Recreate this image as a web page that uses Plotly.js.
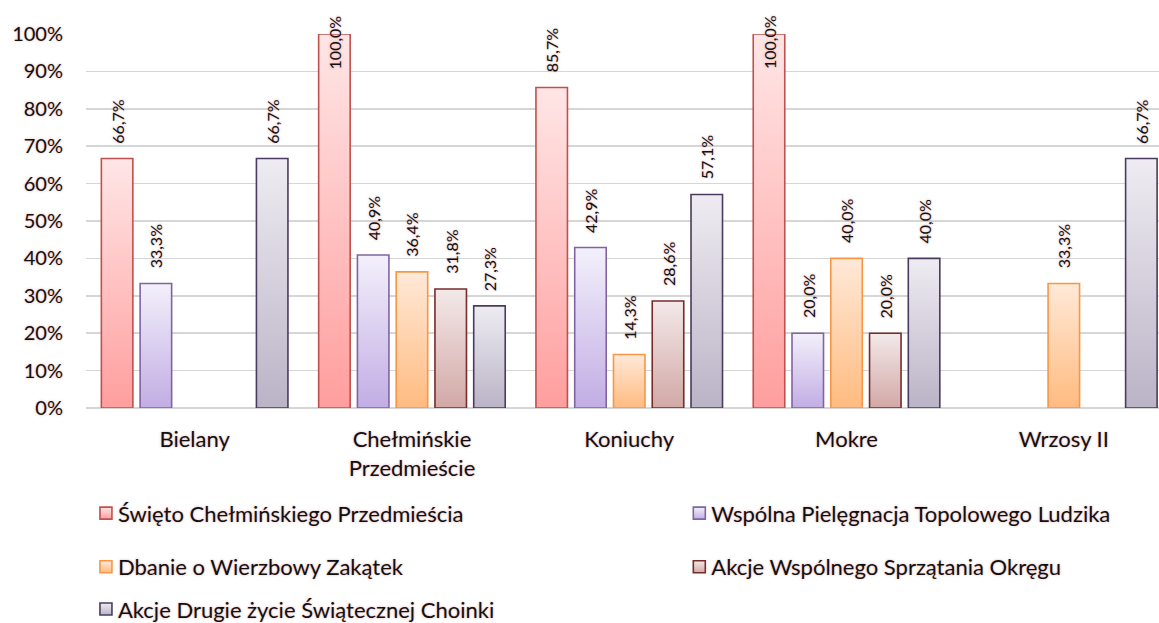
<!DOCTYPE html>
<html>
<head>
<meta charset="utf-8">
<script src="https://cdn.plot.ly/plotly-3.0.1.min.js"></script>
<style>
  html, body { margin: 0; padding: 0; background: #fff; overflow: hidden; }
  #wrap { width: 1159px; height: 623px; overflow: hidden; }
  #chart { width: 1159px; height: 640px; }
</style>
</head>
<body>
<div id="wrap"><div id="chart"></div></div>
<script>
// Districts (x categories) and how they are written under the axis
const districts = ['Bielany', 'Chełmińskie Przedmieście', 'Koniuchy', 'Mokre', 'Wrzosy II'];
const districtLabels = ['Bielany', 'Chełmińskie<br>Przedmieście', 'Koniuchy', 'Mokre', 'Wrzosy II'];

// Initiatives (one bar series each)
const initiatives = [
  'Święto Chełmińskiego Przedmieścia',
  'Wspólna Pielęgnacja Topolowego Ludzika',
  'Dbanie o Wierzbowy Zakątek',
  'Akcje Wspólnego Sprzątania Okręgu',
  'Akcje Drugie życie Świątecznej Choinki'
];

// Share of respondents per district (null = no bar)
const swietoChelminskiego   = [0.667, 1.000, 0.857, 1.000, null];
const pielegnacjaLudzika    = [0.333, 0.409, 0.429, 0.200, null];
const wierzbowyZakatek      = [null,  0.364, 0.143, 0.400, 0.333];
const sprzatanieOkregu      = [null,  0.318, 0.286, 0.200, null];
const drugieZycieChoinki    = [0.667, 0.273, 0.571, 0.400, 0.667];

const seriesValues = [swietoChelminskiego, pielegnacjaLudzika, wierzbowyZakatek, sprzatanieOkregu, drugieZycieChoinki];

// Bar styling: outline plus a vertical light-to-dark fill
const styles = [
  { line: '#c0504d', top: '#ffe6e6', bottom: '#ff9e9e' },
  { line: '#8064a2', top: '#f3f0fb', bottom: '#c2ade4' },
  { line: '#f79646', top: '#ffe9d8', bottom: '#ffbb80' },
  { line: '#772c2a', top: '#f3e9e9', bottom: '#d2a8a6' },
  { line: '#4a3b60', top: '#eeecf2', bottom: '#bbb3c6' }
];

const FONT = 'Lato, "Open Sans", sans-serif';
const GLOW = '0px 0px 2px rgba(215,140,140,0.55), 0px 0px 3px rgba(230,170,170,0.45)';
const BARGAP = 0.108;
const GROUPGAP = 0.187;
const legendIds = ['legend', 'legend2', 'legend3', 'legend4', 'legend5'];

const fmtPct = v => (v * 100).toFixed(1).replace('.', ',') + '%';

const traces = seriesValues.map((vals, i) => ({
  type: 'bar',
  name: initiatives[i],
  x: districts,
  y: vals,
  legend: legendIds[i],
  marker: { color: styles[i].bottom, line: { color: styles[i].line, width: 1.6 } },
  hoverinfo: 'skip'
}));

// Value labels above each bar, positioned from the bar's own category slot and value
const slot = (1 - BARGAP) / seriesValues.length;
const annotations = [];
seriesValues.forEach((vals, i) => {
  vals.forEach((v, c) => {
    if (v === null) return;
    const full = v >= 0.999;
    annotations.push({
      xref: 'x', yref: 'y',
      x: c + (i - (seriesValues.length - 1) / 2) * slot,
      y: v,
      text: fmtPct(v),
      textangle: -90,
      showarrow: false,
      xanchor: 'center',
      yanchor: full ? 'middle' : 'bottom',
      yshift: full ? -8 : 13,
      font: { family: FONT, size: 16, color: '#111', shadow: GLOW }
    });
  });
});

// Legend laid out as two columns, one entry per legend box
const legendPos = [
  { x: -0.0075, y: -0.2816 },
  { x: 0.5455,  y: -0.2816 },
  { x: -0.0075, y: -0.4251 },
  { x: 0.5455,  y: -0.4251 },
  { x: -0.0075, y: -0.538 }
];
const legendBase = {
  orientation: 'h', xanchor: 'left', yanchor: 'middle',
  bgcolor: 'rgba(0,0,0,0)', borderwidth: 0,
  font: { family: FONT, size: 22, color: '#111', shadow: GLOW }
};

const layout = {
  width: 1159, height: 640,
  margin: { l: 86, r: 0, t: 34, b: 232, pad: 0 },
  showlegend: true,
  paper_bgcolor: '#fff', plot_bgcolor: '#fff',
  barmode: 'group', bargap: BARGAP, bargroupgap: GROUPGAP,
  separators: ',.',
  font: { family: FONT, color: '#111' },
  xaxis: {
    type: 'category',
    range: [-0.5, 4.438],
    tickvals: districts, ticktext: districtLabels,
    showgrid: false, showline: false, zeroline: false, ticks: '',
    ticklabelstandoff: 16,
    tickfont: { family: FONT, size: 22, color: '#111', shadow: GLOW }
  },
  yaxis: {
    range: [0, 1],
    tickvals: [0, 0.1, 0.2, 0.3, 0.4, 0.5, 0.6, 0.7, 0.8, 0.9, 1.0],
    tickformat: '.0%',
    showgrid: true, gridcolor: '#d6d6d6', gridwidth: 1.6,
    zeroline: true, zerolinecolor: '#d6d6d6', zerolinewidth: 1.6,
    showline: false, ticks: '',
    ticklabelstandoff: 22,
    tickfont: { family: FONT, size: 20, color: '#111', shadow: GLOW }
  },
  annotations: annotations
};
legendIds.forEach((id, i) => {
  layout[id] = Object.assign({}, legendBase, legendPos[i]);
});

const gd = document.getElementById('chart');
Plotly.newPlot(gd, traces, layout, { displayModeBar: false, staticPlot: true }).then(() => {
  // vertical gradient fills for bars and legend swatches
  const ns = 'http://www.w3.org/2000/svg';
  const svg = gd.querySelector('svg.main-svg');
  let defs = svg.querySelector('defs');
  if (!defs) { defs = document.createElementNS(ns, 'defs'); svg.insertBefore(defs, svg.firstChild); }
  styles.forEach((s, i) => {
    const g = document.createElementNS(ns, 'linearGradient');
    g.setAttribute('id', 'barfill' + i);
    g.setAttribute('x1', '0'); g.setAttribute('y1', '0');
    g.setAttribute('x2', '0'); g.setAttribute('y2', '1');
    [[0, s.top], [1, s.bottom]].forEach(([o, c]) => {
      const st = document.createElementNS(ns, 'stop');
      st.setAttribute('offset', o);
      st.setAttribute('stop-color', c);
      g.appendChild(st);
    });
    defs.appendChild(g);
  });
  const traceIndex = el => (el.__data__ && el.__data__[0] && el.__data__[0].trace) ? el.__data__[0].trace.index : null;
  gd.querySelectorAll('.barlayer .trace').forEach(t => {
    const idx = traceIndex(t);
    if (idx === null) return;
    t.querySelectorAll('path').forEach(p => { p.style.fill = 'url(#barfill' + idx + ')'; });
  });
  gd.querySelectorAll('g.traces').forEach(t => {
    const idx = traceIndex(t);
    if (idx === null) return;
    t.querySelectorAll('.legendpoints').forEach(lp => {
      // swatch sits closer to its label
      lp.setAttribute('transform', 'translate(8,0) ' + (lp.getAttribute('transform') || ''));
      lp.querySelectorAll('path').forEach(p => { p.style.fill = 'url(#barfill' + idx + ')'; });
    });
  });
});
</script>
</body>
</html>
